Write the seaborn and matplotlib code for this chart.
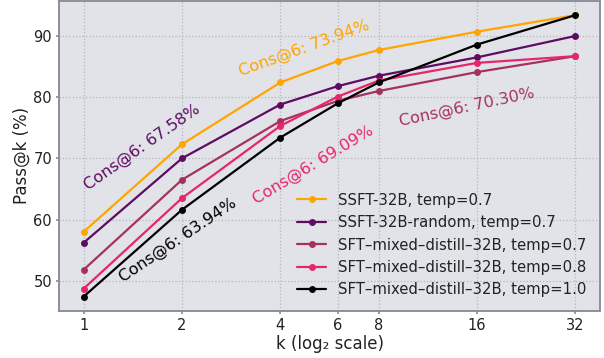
import matplotlib
matplotlib.use("Agg")
import matplotlib.pyplot as plt
from matplotlib.ticker import FixedLocator, FixedFormatter, NullLocator
import seaborn as sns
import pandas as pd

k_values = [1, 2, 4, 6, 8, 16, 32]
series_names = [
    "SSFT-32B, temp=0.7",
    "SSFT-32B-random, temp=0.7",
    "SFT\u2013mixed\u2013distill\u201332B, temp=0.7",
    "SFT\u2013mixed\u2013distill\u201332B, temp=0.8",
    "SFT\u2013mixed\u2013distill\u201332B, temp=1.0",
]
ssft = [58.0, 72.3, 82.4, 85.9, 87.7, 90.7, 93.4]
ssft_random = [56.2, 70.0, 78.8, 81.8, 83.5, 86.5, 90.0]
sft_t07 = [51.8, 66.5, 76.1, 79.4, 81.0, 84.1, 86.7]
sft_t08 = [48.7, 63.5, 75.3, 80.1, 82.7, 85.6, 86.7]
sft_t10 = [47.4, 61.6, 73.4, 79.0, 82.4, 88.6, 93.4]
colors = ["#FFA500", "#5E0B62", "#A5325E", "#E7266A", "#000000"]

cons_labels = ["Cons@6: 73.94%", "Cons@6: 67.58%", "Cons@6: 70.30%",
               "Cons@6: 69.09%", "Cons@6: 63.94%"]
cons_x = [3.04, 1.03, 9.3, 3.37, 1.32]
cons_y = [83.4, 64.7, 75.3, 62.5, 49.8]
cons_rot = [20, 35, 12, 31, 34]

all_vals = [ssft, ssft_random, sft_t07, sft_t08, sft_t10]
rows = []
for name, vals in zip(series_names, all_vals):
    for k, v in zip(k_values, vals):
        rows.append({"k": k, "pass": v, "model": name})
df = pd.DataFrame(rows)

sns.set_theme(style="darkgrid")
plt.rcParams["font.family"] = ["DejaVu Sans"]

fig = plt.figure(figsize=(6.04, 3.58), dpi=100)
ax = fig.add_axes([0.0977, 0.132, 0.8957, 0.865])
ax.set_facecolor("#E2E3E9")

sns.lineplot(data=df, x="k", y="pass", hue="model", hue_order=series_names,
             palette=colors, marker="o", markersize=5, markeredgewidth=0,
             linewidth=1.6, ax=ax, legend=True)

ax.set_xscale("log", base=2)
ax.xaxis.set_major_locator(FixedLocator(k_values))
ax.xaxis.set_major_formatter(FixedFormatter([str(k) for k in k_values]))
ax.xaxis.set_minor_locator(NullLocator())
ax.set_yticks([50, 60, 70, 80, 90])

ax.grid(True, linestyle=":", color="#B4B6BC", linewidth=0.9)
for s in ax.spines.values():
    s.set_visible(True)
    s.set_color("#8C909C")
    s.set_linewidth(1.4)
ax.tick_params(axis="both", labelsize=10.5, length=2.5, color="#8C909C",
               colors="#222222", pad=2.5)
ax.tick_params(axis="both", which="both", bottom=True, left=True)
ax.set_xlabel("k (log\u2082 scale)", fontsize=12, color="#222222", labelpad=1.5)
ax.set_ylabel("Pass@k (%)", fontsize=12, color="#222222", labelpad=1.5)

for lab, x, y, r, c in zip(cons_labels, cons_x, cons_y, cons_rot, colors):
    ax.text(x, y, lab, color=c, fontsize=11.6, rotation=r,
            rotation_mode="anchor", ha="left", va="baseline")

leg = ax.legend(loc="lower right", frameon=False, fontsize=10.7,
                handlelength=2.0, labelspacing=0.5)
for t in leg.get_texts():
    t.set_color("#222222")

fig.savefig("out.png", dpi=100)
